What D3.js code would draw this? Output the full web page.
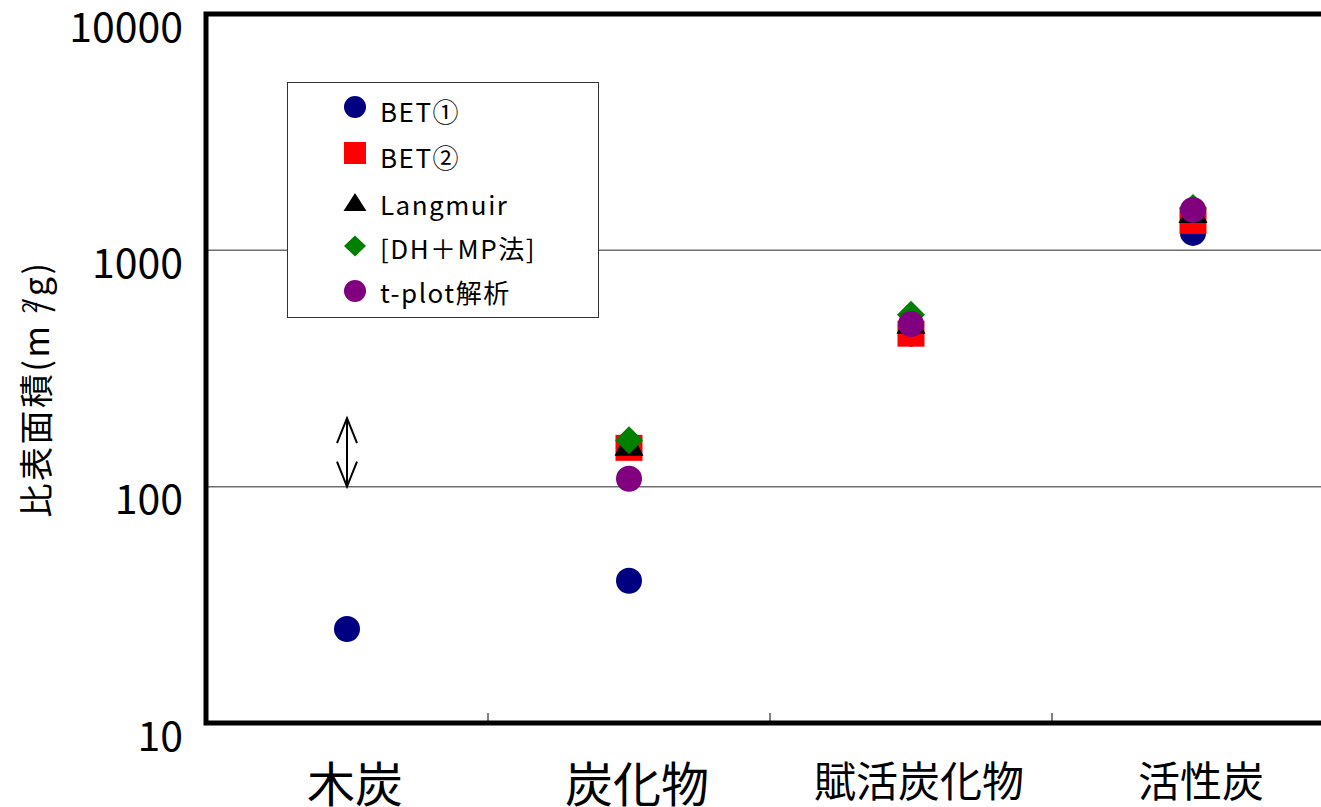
<!DOCTYPE html>
<html>
<head>
<meta charset="utf-8">
<script src="https://cdn.jsdelivr.net/npm/d3@7"></script>
<style>
  html, body { margin: 0; padding: 0; background: #fff; }
  svg { display: block; font-family: "Noto Sans CJK JP", "Noto Sans", sans-serif; }
</style>
</head>
<body>
<svg id="chart" width="1321" height="807"></svg>
<script>
// Specific surface area by measurement method (m²/g)
const categories = ["木炭", "炭化物", "賦活炭化物", "活性炭"];
const seriesNames = ["BET①", "BET②", "Langmuir", "[DH＋MP法]", "t-plot解析"];
const bet1     = [25, 40, 444, 1185];
const bet2     = [null, 146, 444, 1332];
const langmuir = [null, 155, 508, 1497];
const dhmp     = [null, 157, 534, 1510];
const tplot    = [null, 108, 488, 1483];
const yTicks = [10, 100, 1000, 10000];
const gridValues = [100, 1000];
const rangeArrow = { category: "木炭", low: 100, high: 195 };

// caption font sizes and baselines per category
const captionStyle = [
  { size: 48, base: 802 },
  { size: 48, base: 802 },
  { size: 42, base: 797 },
  { size: 42, base: 797 }
];

const series = [
  { name: seriesNames[0], values: bet1,     shape: "circle",   color: "#000080" },
  { name: seriesNames[1], values: bet2,     shape: "square",   color: "#ff0000" },
  { name: seriesNames[2], values: langmuir, shape: "triangle", color: "#000000" },
  { name: seriesNames[3], values: dhmp,     shape: "diamond",  color: "#008000" },
  { name: seriesNames[4], values: tplot,    shape: "circle",   color: "#800080" }
];

const svg = d3.select("#chart");
const plot = { left: 206, right: 1334, top: 14, bottom: 723 };

const x = d3.scaleBand().domain(categories).range([plot.left, plot.right]);
const cx = c => x(c) + x.bandwidth() / 2;
const y = d3.scaleLog().domain([10, 10000]).range([plot.bottom, plot.top]);

// marker outlines, sized by bounding box
function markerPath(shape, w, h) {
  const p = d3.path();
  if (shape === "circle") {
    p.arc(0, 0, w / 2, 0, 2 * Math.PI);
  } else if (shape === "square") {
    p.rect(-w / 2, -h / 2, w, h);
  } else if (shape === "triangle") {
    p.moveTo(0, -h / 2); p.lineTo(w / 2, h / 2); p.lineTo(-w / 2, h / 2); p.closePath();
  } else if (shape === "diamond") {
    p.moveTo(0, -h / 2); p.lineTo(w / 2, 0); p.lineTo(0, h / 2); p.lineTo(-w / 2, 0); p.closePath();
  }
  return p.toString();
}
const plotSize = { circle: [26, 26], square: [27, 26], triangle: [29, 28], diamond: [28, 28] };
const legendSize = { circle: [22, 22], square: [22, 22], triangle: [23, 18], diamond: [22, 21] };

// horizontal gridlines
svg.append("g").selectAll("line").data(gridValues).join("line")
  .attr("x1", plot.left).attr("x2", plot.right)
  .attr("y1", d => y(d)).attr("y2", d => y(d))
  .attr("stroke", "#6e6e6e").attr("stroke-width", 1.5);

// category separator ticks on the bottom axis
const bounds = categories.slice(1).map(c => x(c));
svg.append("g").selectAll("line").data(bounds).join("line")
  .attr("x1", d => d).attr("x2", d => d)
  .attr("y1", plot.bottom - 10).attr("y2", plot.bottom)
  .attr("stroke", "#000").attr("stroke-width", 1);

// plot frame (left, top, bottom)
svg.append("path")
  .attr("d", `M${plot.right},${plot.top} H${plot.left} V${plot.bottom} H${plot.right}`)
  .attr("fill", "none").attr("stroke", "#000").attr("stroke-width", 5);

// y tick labels
svg.append("g").selectAll("text").data(yTicks).join("text")
  .attr("x", 183).attr("y", d => y(d) + 27.5)
  .attr("text-anchor", "end").attr("font-size", 41).attr("fill", "#000")
  .text(d => d);

// category labels
svg.append("g").selectAll("text").data(categories).join("text")
  .attr("x", d => cx(d) + 8).attr("y", (d, i) => captionStyle[i].base)
  .attr("text-anchor", "middle").attr("font-size", (d, i) => captionStyle[i].size)
  .attr("fill", "#000")
  .text(d => d);

// y axis title
const yt = svg.append("text")
  .attr("transform", "translate(49,389) rotate(-90)")
  .attr("text-anchor", "middle").attr("font-size", 34).attr("letter-spacing", 2.5)
  .attr("fill", "#000");
yt.append("tspan").text("比表面積(m ");
yt.append("tspan").attr("dy", -12).attr("font-size", 21).attr("letter-spacing", 0).text("2");
yt.append("tspan").attr("dy", 12).attr("dx", -10).text("/g)");

// range arrow on 木炭
const ax = cx(rangeArrow.category);
const yHi = y(rangeArrow.high), yLo = y(rangeArrow.low);
svg.append("path")
  .attr("d", `M${ax},${yHi} V${yLo} M${ax - 10},${yHi + 25} L${ax},${yHi} L${ax + 10},${yHi + 25}` +
             ` M${ax - 10},${yLo - 25} L${ax},${yLo} L${ax + 10},${yLo - 25}`)
  .attr("fill", "none").attr("stroke", "#000").attr("stroke-width", 2);

// data markers, drawn series by series
series.forEach(s => {
  const pts = categories.map((c, i) => ({ c, v: s.values[i] })).filter(d => d.v != null);
  const [w, h] = plotSize[s.shape];
  svg.append("g").selectAll("path").data(pts).join("path")
    .attr("transform", d => `translate(${cx(d.c)},${y(d.v)})`)
    .attr("d", markerPath(s.shape, w, h))
    .attr("fill", s.color);
});

// legend
const lg = svg.append("g");
lg.append("rect").attr("x", 287.5).attr("y", 82.5).attr("width", 311).attr("height", 235)
  .attr("fill", "#fff").attr("stroke", "#333").attr("stroke-width", 1);
const rowY = [107, 153, 202, 246, 291];
const baseY = [121.5, 167.5, 215, 259, 303];
series.forEach((s, i) => {
  const [w, h] = legendSize[s.shape];
  lg.append("path").attr("transform", `translate(355,${rowY[i]})`)
    .attr("d", markerPath(s.shape, w, h)).attr("fill", s.color);
  lg.append("text").attr("x", 380).attr("y", baseY[i])
    .attr("font-size", 26).attr("letter-spacing", 1.5).attr("fill", "#000").text(s.name);
});
</script>
</body>
</html>
